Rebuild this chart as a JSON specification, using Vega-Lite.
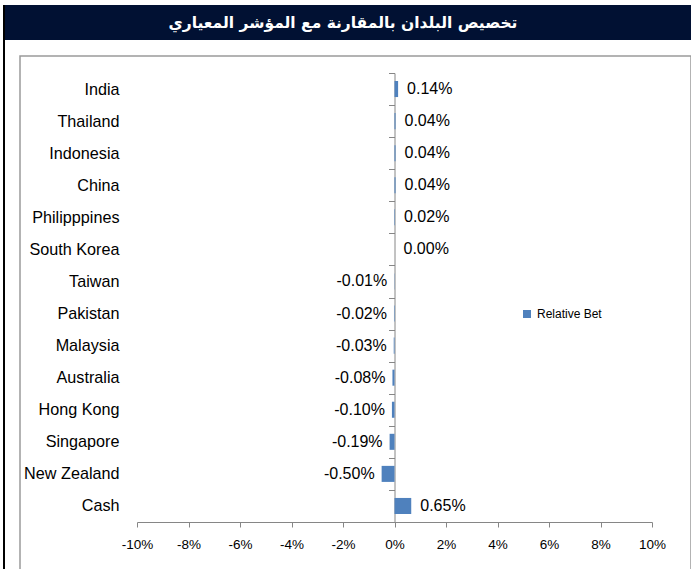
{
  "$schema": "https://vega.github.io/schema/vega-lite/v6.json",
  "background": "white",
  "padding": {"left": 3, "top": 5, "right": 0, "bottom": 0},
  "config": {
    "font": "Liberation Sans",
    "axis": {"grid": false},
    "view": {"stroke": null},
    "text": {"color": "#000000"},
    "locale": {"number": {"decimal": ".", "thousands": ",", "grouping": [3], "currency": ["$", ""], "minus": "-"}}
  },
  "spacing": 0,
  "hconcat": [
    {
      "width": 2,
      "height": 564,
      "data": {"values": []},
      "mark": "point",
      "encoding": {},
      "view": {"fill": "#000000", "stroke": null}
    },
    {
      "spacing": 7,
      "vconcat": [
        {
          "width": 686,
          "height": 35,
          "view": {"fill": "#011133", "stroke": null},
          "data": {"values": [{"title": "تخصيص البلدان بالمقارنة مع المؤشر المعياري"}]},
          "mark": {"type": "text", "color": "#ffffff", "font": "DejaVu Sans", "fontWeight": "bold", "fontSize": 15.5, "dx": -5, "baseline": "middle", "align": "center"},
          "encoding": {
            "x": {"datum": 0, "type": "quantitative", "scale": {"domain": [-1, 1]}, "axis": null},
            "y": {"datum": 0, "type": "quantitative", "scale": {"domain": [-1, 1]}, "axis": null},
            "text": {"field": "title"}
          }
        },
        {
          "spacing": 2,
          "hconcat": [
            {
              "width": 12,
              "height": 10,
              "data": {"values": []},
              "mark": "point",
              "encoding": {},
              "view": {"stroke": null}
            },
            {
              "width": 671,
              "height": 514,
              "view": {"stroke": "#9a9a9a", "strokeWidth": 1.5},
              "data": {
                "values": [
                  {"country": "India", "value": 0.0014, "series": "Relative Bet"},
                  {"country": "Thailand", "value": 0.0004, "series": "Relative Bet"},
                  {"country": "Indonesia", "value": 0.0004, "series": "Relative Bet"},
                  {"country": "China", "value": 0.0004, "series": "Relative Bet"},
                  {"country": "Philipppines", "value": 0.0002, "series": "Relative Bet"},
                  {"country": "South Korea", "value": 0.0, "series": "Relative Bet"},
                  {"country": "Taiwan", "value": -0.0001, "series": "Relative Bet"},
                  {"country": "Pakistan", "value": -0.0002, "series": "Relative Bet"},
                  {"country": "Malaysia", "value": -0.0003, "series": "Relative Bet"},
                  {"country": "Australia", "value": -0.0008, "series": "Relative Bet"},
                  {"country": "Hong Kong", "value": -0.001, "series": "Relative Bet"},
                  {"country": "Singapore", "value": -0.0019, "series": "Relative Bet"},
                  {"country": "New Zealand", "value": -0.005, "series": "Relative Bet"},
                  {"country": "Cash", "value": 0.0065, "series": "Relative Bet"}
                ]
              },
              "encoding": {
                "y": {
                  "field": "country",
                  "type": "nominal",
                  "sort": null,
                  "scale": {"range": [17, 466], "paddingInner": 0, "paddingOuter": 0},
                  "axis": {
                    "title": null,
                    "orient": "left",
                    "offset": -374.5,
                    "tickBand": "extent",
                    "tickSize": 6,
                    "domainColor": "#868686",
                    "tickColor": "#868686",
                    "labelPadding": 269.5,
                    "labelFontSize": 16.2,
                    "labelColor": "#000000",
                    "labelFont": "Liberation Sans"
                  }
                },
                "x": {
                  "field": "value",
                  "type": "quantitative",
                  "scale": {"domain": [-0.1, 0.1], "range": [117, 632], "nice": false},
                  "axis": {
                    "title": null,
                    "format": ".0%",
                    "values": [-0.1, -0.08, -0.06, -0.04, -0.02, 0, 0.02, 0.04, 0.06, 0.08, 0.1],
                    "offset": -48,
                    "tickSize": 5,
                    "domainColor": "#868686",
                    "tickColor": "#868686",
                    "labelPadding": 10,
                    "labelFontSize": 13.5,
                    "labelColor": "#000000",
                    "labelFont": "Liberation Sans",
                    "labelFlush": false,
                    "labelOverlap": false
                  }
                }
              },
              "layer": [
                {
                  "mark": {"type": "bar", "height": {"band": 0.5}},
                  "encoding": {
                    "color": {
                      "field": "series",
                      "type": "nominal",
                      "scale": {"range": ["#4F81BD"]},
                      "legend": {
                        "title": null,
                        "orient": "none",
                        "legendX": 518,
                        "legendY": 303,
                        "symbolType": "square",
                        "symbolSize": 64,
                        "symbolStrokeWidth": 0,
                        "labelFontSize": 12,
                        "labelFont": "Liberation Sans",
                        "labelColor": "#000000",
                        "labelOffset": 4,
                        "padding": 0
                      }
                    }
                  }
                },
                {
                  "transform": [{"filter": "datum.value >= 0"}],
                  "mark": {"type": "text", "align": "left", "dx": 9, "fontSize": 16, "font": "Liberation Sans"},
                  "encoding": {"text": {"field": "value", "type": "quantitative", "format": ".2%"}}
                },
                {
                  "transform": [{"filter": "datum.value < 0"}],
                  "mark": {"type": "text", "align": "right", "dx": -7, "fontSize": 16, "font": "Liberation Sans"},
                  "encoding": {"text": {"field": "value", "type": "quantitative", "format": ".2%"}}
                }
              ]
            }
          ]
        }
      ]
    }
  ]
}
